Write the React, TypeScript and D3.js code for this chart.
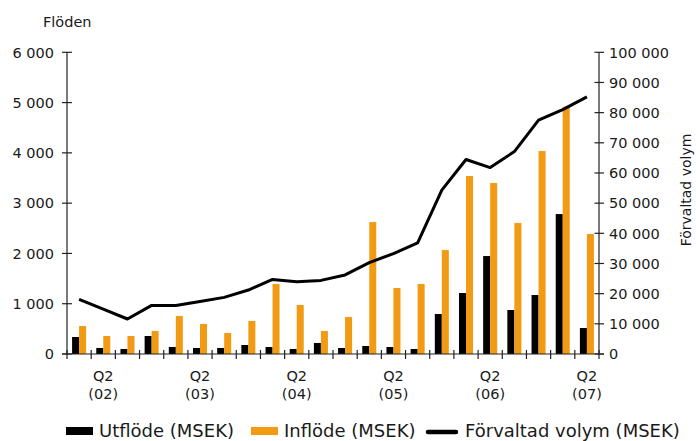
import React from "react";
import * as d3 from "d3";

const quarters = [
  "Q1 02", "Q2 02", "Q3 02", "Q4 02",
  "Q1 03", "Q2 03", "Q3 03", "Q4 03",
  "Q1 04", "Q2 04", "Q3 04", "Q4 04",
  "Q1 05", "Q2 05", "Q3 05", "Q4 05",
  "Q1 06", "Q2 06", "Q3 06", "Q4 06",
  "Q1 07", "Q2 07",
];
const utflode = [338, 120, 100, 358, 140, 120, 120, 179, 139, 100, 219, 119, 159, 139, 100, 795, 1213, 1948, 875, 1173, 2783, 517];
const inflode = [557, 358, 358, 457, 755, 596, 417, 656, 1392, 974, 457, 735, 2624, 1312, 1392, 2067, 3539, 3400, 2604, 4036, 4917, 2386];
const volym = [18100, 14900, 11600, 16100, 16100, 17400, 18770, 21200, 24700, 23950, 24400, 26200, 30300, 33300, 36850, 54300, 64470, 61800, 67100, 77500, 81000, 85200];
const leftTicks = [0, 1000, 2000, 3000, 4000, 5000, 6000];
const rightTicks = [0, 10000, 20000, 30000, 40000, 50000, 60000, 70000, 80000, 90000, 100000];
const xLabelQuarters = ["Q2 02", "Q2 03", "Q2 04", "Q2 05", "Q2 06", "Q2 07"];

const ORANGE = "#F29A13";
const FONT = "'DejaVu Sans', sans-serif";

const fmt = (v: number) => d3.format(",")(v).replace(/,/g, " ");

export default function App() {
  const W = 696, H = 441;
  const left = 67, right = 599, top = 52.3, bottom = 354;
  const x = d3.scaleBand<string>().domain(quarters).range([left, right]).padding(0);
  const yL = d3.scaleLinear().domain([0, 6000]).range([bottom, top]);
  const yR = d3.scaleLinear().domain([0, 100000]).range([bottom, top]);
  const bw = x.bandwidth() * 0.29;
  const line = d3
    .line<number>()
    .x((_, i) => (x(quarters[i]) as number) + x.bandwidth() / 2)
    .y((d) => yR(d));
  const boundaries = d3.range(quarters.length + 1).map((i) => left + i * x.bandwidth());

  return (
    <svg width={W} height={H} style={{ position: "absolute", left: 0, top: 0 }} fontFamily={FONT}>
      <rect width={W} height={H} fill="#fff" />
      {/* bars */}
      {quarters.map((q, i) => {
        const c = (x(q) as number) + x.bandwidth() / 2;
        return (
          <g key={q}>
            <rect x={c - bw} y={yL(utflode[i])} width={bw} height={bottom - yL(utflode[i])} fill="#000" />
            <rect x={c} y={yL(inflode[i])} width={bw} height={bottom - yL(inflode[i])} fill={ORANGE} />
          </g>
        );
      })}
      {/* line */}
      <path d={line(volym) || ""} fill="none" stroke="#000" strokeWidth={3} strokeLinejoin="round" />
      {/* left axis */}
      <line x1={left} x2={left} y1={top} y2={bottom} stroke="#222" strokeWidth={1.2} />
      {leftTicks.map((t) => (
        <g key={t}>
          <line x1={left - 5} x2={left + 5} y1={yL(t)} y2={yL(t)} stroke="#222" strokeWidth={1.2} />
          <text x={54} y={yL(t)} dy="0.36em" textAnchor="end" fontSize={14.5} fill="#1a1a1a">
            {fmt(t)}
          </text>
        </g>
      ))}
      {/* right axis */}
      <line x1={right} x2={right} y1={top} y2={bottom} stroke="#222" strokeWidth={1.2} />
      {rightTicks.map((t) => (
        <g key={t}>
          <line x1={right - 4.5} x2={right + 5} y1={yR(t)} y2={yR(t)} stroke="#222" strokeWidth={1.2} />
          <text x={609} y={yR(t)} dy="0.36em" textAnchor="start" fontSize={14.5} fill="#1a1a1a">
            {fmt(t)}
          </text>
        </g>
      ))}
      {/* x axis */}
      <line x1={left - 5} x2={right + 5} y1={bottom} y2={bottom} stroke="#222" strokeWidth={1.2} />
      {boundaries.map((b, i) => (
        <line key={i} x1={b} x2={b} y1={bottom - 4} y2={bottom + 5} stroke="#222" strokeWidth={1.2} />
      ))}
      {xLabelQuarters.map((q) => {
        const c = (x(q) as number) + x.bandwidth() / 2;
        const [qq, yy] = q.split(" ");
        return (
          <g key={q}>
            <text x={c} y={381} textAnchor="middle" fontSize={14.5} fill="#1a1a1a">{qq}</text>
            <text x={c} y={399} textAnchor="middle" fontSize={14.5} fill="#1a1a1a">({yy})</text>
          </g>
        );
      })}
      {/* titles */}
      <text x={43} y={27} fontSize={14.5} fill="#1a1a1a">Flöden</text>
      <text transform="translate(691,190) rotate(-90)" textAnchor="middle" fontSize={14} fill="#1a1a1a">
        Förvaltad volym
      </text>
      {/* legend */}
      <rect x={66} y={427} width={27} height={8} fill="#000" />
      <text x={99} y={437} fontSize={18} fill="#1a1a1a">Utflöde (MSEK)</text>
      <rect x={251} y={427} width={27} height={8} fill={ORANGE} />
      <text x={284} y={437} fontSize={18} fill="#1a1a1a">Inflöde (MSEK)</text>
      <line x1={428} x2={456} y1={432} y2={432} stroke="#000" strokeWidth={4.5} strokeLinecap="round" />
      <text x={465} y={437} fontSize={18} fill="#1a1a1a">Förvaltad volym (MSEK)</text>
    </svg>
  );
}
